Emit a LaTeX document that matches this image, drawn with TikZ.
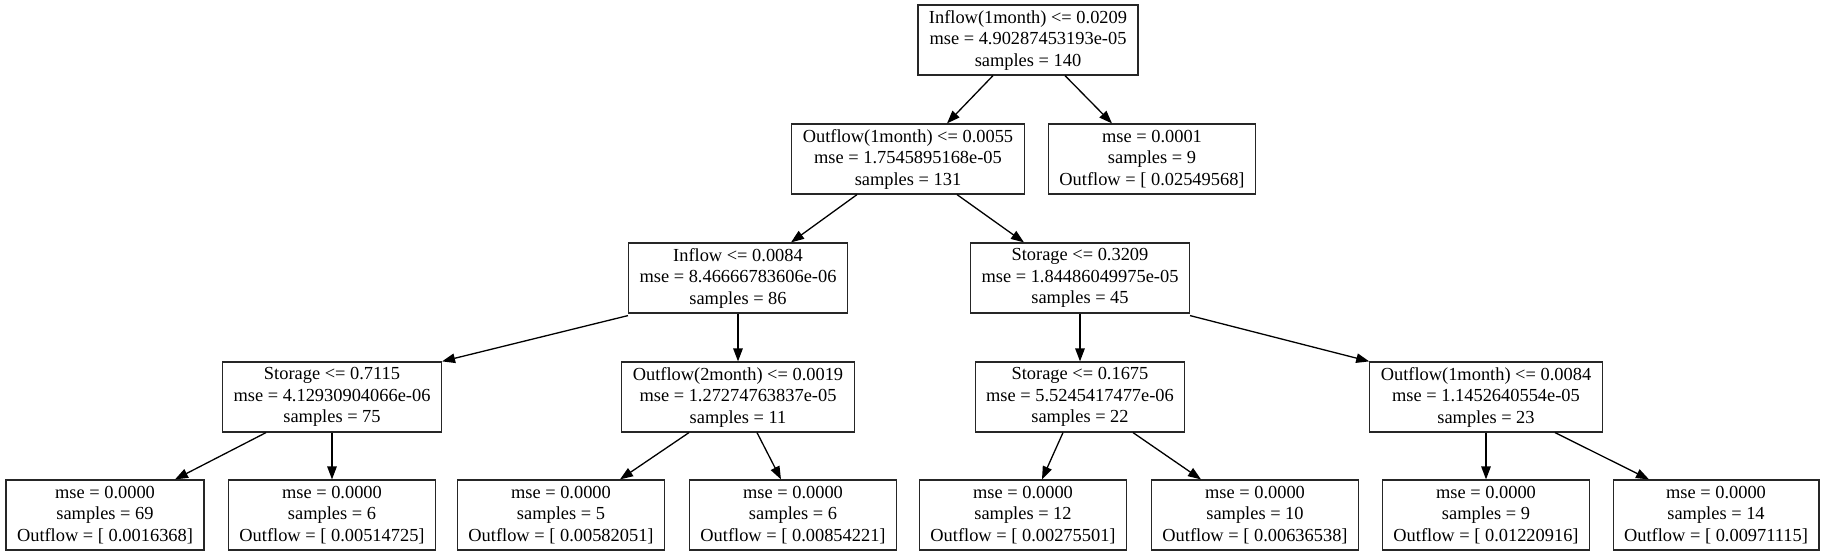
\documentclass[tikz,border=0pt]{standalone}
\usepackage{fontspec}
\setmainfont{Liberation Serif}
\usetikzlibrary{arrows.meta}
\tikzset{
  tbox/.style={draw=black!85, line width=1.2pt, minimum height=70pt, inner xsep=11pt, inner ysep=4pt,
    align=center, font=\fontsize{18.4}{21.5}\selectfont, text=black},
  arr/.style={line width=1.3pt, -{Triangle[length=13pt,width=9.5pt]}}
}
\begin{document}
\begin{tikzpicture}[x=1pt,y=-1pt]
\useasboundingbox (0,0) rectangle (1824,556);
\node[tbox] (root) at (1028,40) {Inflow(1month) <= 0.0209\\mse = 4.90287453193e-05\\samples = 140};
\node[tbox] (A) at (908,159) {Outflow(1month) <= 0.0055\\mse = 1.7545895168e-05\\samples = 131};
\node[tbox] (B) at (1152,159) {mse = 0.0001\\samples = 9\\Outflow = [ 0.02549568]};
\node[tbox] (C) at (738,278) {Inflow <= 0.0084\\mse = 8.46666783606e-06\\samples = 86};
\node[tbox] (D) at (1080,278) {Storage <= 0.3209\\mse = 1.84486049975e-05\\samples = 45};
\node[tbox] (E) at (332,397) {Storage <= 0.7115\\mse = 4.12930904066e-06\\samples = 75};
\node[tbox] (F) at (738,397) {Outflow(2month) <= 0.0019\\mse = 1.27274763837e-05\\samples = 11};
\node[tbox] (G) at (1080,397) {Storage <= 0.1675\\mse = 5.5245417477e-06\\samples = 22};
\node[tbox] (H) at (1486,397) {Outflow(1month) <= 0.0084\\mse = 1.1452640554e-05\\samples = 23};
\node[tbox] (L1) at (105,515) {mse = 0.0000\\samples = 69\\Outflow = [ 0.0016368]};
\node[tbox] (L2) at (332,515) {mse = 0.0000\\samples = 6\\Outflow = [ 0.00514725]};
\node[tbox] (L3) at (561,515) {mse = 0.0000\\samples = 5\\Outflow = [ 0.00582051]};
\node[tbox] (L4) at (793,515) {mse = 0.0000\\samples = 6\\Outflow = [ 0.00854221]};
\node[tbox] (L5) at (1023,515) {mse = 0.0000\\samples = 12\\Outflow = [ 0.00275501]};
\node[tbox] (L6) at (1255,515) {mse = 0.0000\\samples = 10\\Outflow = [ 0.00636538]};
\node[tbox] (L7) at (1486,515) {mse = 0.0000\\samples = 9\\Outflow = [ 0.01220916]};
\node[tbox] (L8) at (1716,515) {mse = 0.0000\\samples = 14\\Outflow = [ 0.00971115]};
\draw[arr] ([xshift=-35pt]root.south) -- ([xshift=39pt]A.north);
\draw[arr] ([xshift=37pt]root.south) -- ([xshift=-40pt]B.north);
\draw[arr] ([xshift=-51pt]A.south) -- ([xshift=53pt]C.north);
\draw[arr] ([xshift=49pt]A.south) -- ([xshift=-56pt]D.north);
\draw[arr] ([yshift=-2pt]C.south west) -- (E.north east);
\draw[arr] (C.south) -- (F.north);
\draw[arr] (D.south) -- (G.north);
\draw[arr] ([yshift=-2pt]D.south east) -- (H.north west);
\draw[arr] ([xshift=-66pt]E.south) -- ([xshift=70pt]L1.north);
\draw[arr] (E.south) -- (L2.north);
\draw[arr] ([xshift=-49pt]F.south) -- ([xshift=59pt]L3.north);
\draw[arr] ([xshift=19pt]F.south) -- ([xshift=-12pt]L4.north);
\draw[arr] ([xshift=-17pt]G.south) -- ([xshift=19pt]L5.north);
\draw[arr] ([xshift=53pt]G.south) -- ([xshift=-54pt]L6.north);
\draw[arr] (H.south) -- (L7.north);
\draw[arr] ([xshift=69pt]H.south) -- ([xshift=-67pt]L8.north);
\end{tikzpicture}
\end{document}
